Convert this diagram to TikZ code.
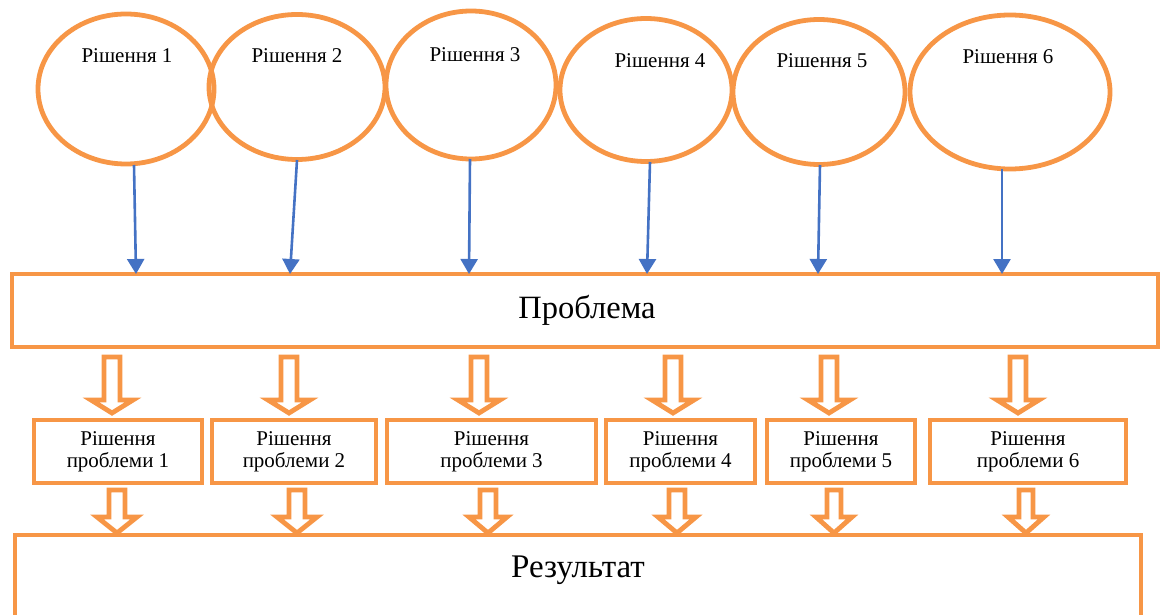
\documentclass[tikz,border=0pt]{standalone}
\usepackage{fontspec}
\setmainfont{Liberation Serif}
\usetikzlibrary{arrows.meta,shapes.geometric}
\definecolor{orn}{HTML}{F79646}
\definecolor{blu}{HTML}{4472C4}
\newcommand\harrow[6]{% x, top, head start, tip, shaft half, head half
  \draw[harr] ({#1-#5},#2) -- ({#1+#5},#2) -- ({#1+#5},#3) -- ({#1+#6},#3) -- (#1,#4) -- ({#1-#6},#3) -- ({#1-#5},#3) -- cycle;}
\begin{document}
\begin{tikzpicture}[x=1pt,y=-1pt,
  ell/.style={draw=orn,line width=4.8pt,ellipse,inner sep=0pt},
  box/.style={draw=orn,line width=4.8pt,rectangle,inner sep=0pt,align=center,
    font=\fontsize{21}{21.5}\selectfont},
  lbl/.style={font=\fontsize{21}{23}\selectfont,inner sep=0pt},
  big/.style={font=\fontsize{32.5}{36}\selectfont,inner sep=0pt},
  barr/.style={draw=blu,line width=2.6pt,-{Triangle[length=15pt,width=17pt]}},
  harr/.style={draw=orn,line width=4.8pt,fill=white,line join=miter}]
\useasboundingbox (0,0) rectangle (1165,615);
% ellipses
\node[ell,minimum width=176pt,minimum height=150pt] (e1) at (126,89) {};
\node[ell,minimum width=176pt,minimum height=145pt] (e2) at (297,87) {};
\node[ell,minimum width=170pt,minimum height=148pt] (e3) at (471,85) {};
\node[ell,minimum width=172pt,minimum height=143pt] (e4) at (646,90) {};
\node[ell,minimum width=172pt,minimum height=145pt] (e5) at (819,92) {};
\node[ell,minimum width=200pt,minimum height=154pt] (e6) at (1010,92) {};
\node[lbl] (l1) at (127,56) {Рішення 1};
\node[lbl] (l2) at (297,56) {Рішення 2};
\node[lbl] (l3) at (475,55) {Рішення 3};
\node[lbl] (l4) at (660,61) {Рішення 4};
\node[lbl] (l5) at (822,61) {Рішення 5};
\node[lbl] (l6) at (1008,57) {Рішення 6};
% problem box
\node[box,minimum width=1146pt,minimum height=73pt] (prob) at (585,310.5) {};
\node[big] (probt) at (587,310) {Проблема};
% blue arrows
\coordinate (s1) at (134,165); \coordinate (t1) at (136,274);
\coordinate (s2) at (297,160); \coordinate (t2) at (290,274);
\coordinate (s3) at (470,159); \coordinate (t3) at (469,274);
\coordinate (s4) at (650,162); \coordinate (t4) at (647,274);
\coordinate (s5) at (820,165); \coordinate (t5) at (818,274);
\coordinate (s6) at (1002,169); \coordinate (t6) at (1002,274);
\foreach \i in {1,...,6} {\draw[barr] (s\i) -- (t\i);}
% solution boxes
\node[box,minimum width=168pt,minimum height=63pt,text depth=4pt] (b1) at (118,451.5) {Рішення\\проблеми 1};
\node[box,minimum width=164pt,minimum height=63pt,text depth=4pt] (b2) at (294,451.5) {Рішення\\проблеми 2};
\node[box,minimum width=209pt,minimum height=63pt,text depth=4pt] (b3) at (491.5,451.5) {Рішення\\проблеми 3};
\node[box,minimum width=149pt,minimum height=63pt,text depth=4pt] (b4) at (680.5,451.5) {Рішення\\проблеми 4};
\node[box,minimum width=148pt,minimum height=63pt,text depth=4pt] (b5) at (841,451.5) {Рішення\\проблеми 5};
\node[box,minimum width=196pt,minimum height=63pt,text depth=4pt] (b6) at (1028,451.5) {Рішення\\проблеми 6};
% result box
\node[box,minimum width=1126pt,minimum height=105pt] (res) at (578,587.5) {};
\node[big,font=\fontsize{33}{36}\selectfont] (rest) at (578,570) {Результат};
% hollow arrows row 1
\foreach \x in {112,289,479,673,829,1018} {\harrow{\x}{357}{400}{413}{8}{21}}
% hollow arrows row 2
\foreach \x/\s/\h in {117/8/20,297/8/20,488/8/19,677/8/19,834/7/18,1026/7/18} {\harrow{\x}{490}{517}{533}{\s}{\h}}
\end{tikzpicture}
\end{document}
